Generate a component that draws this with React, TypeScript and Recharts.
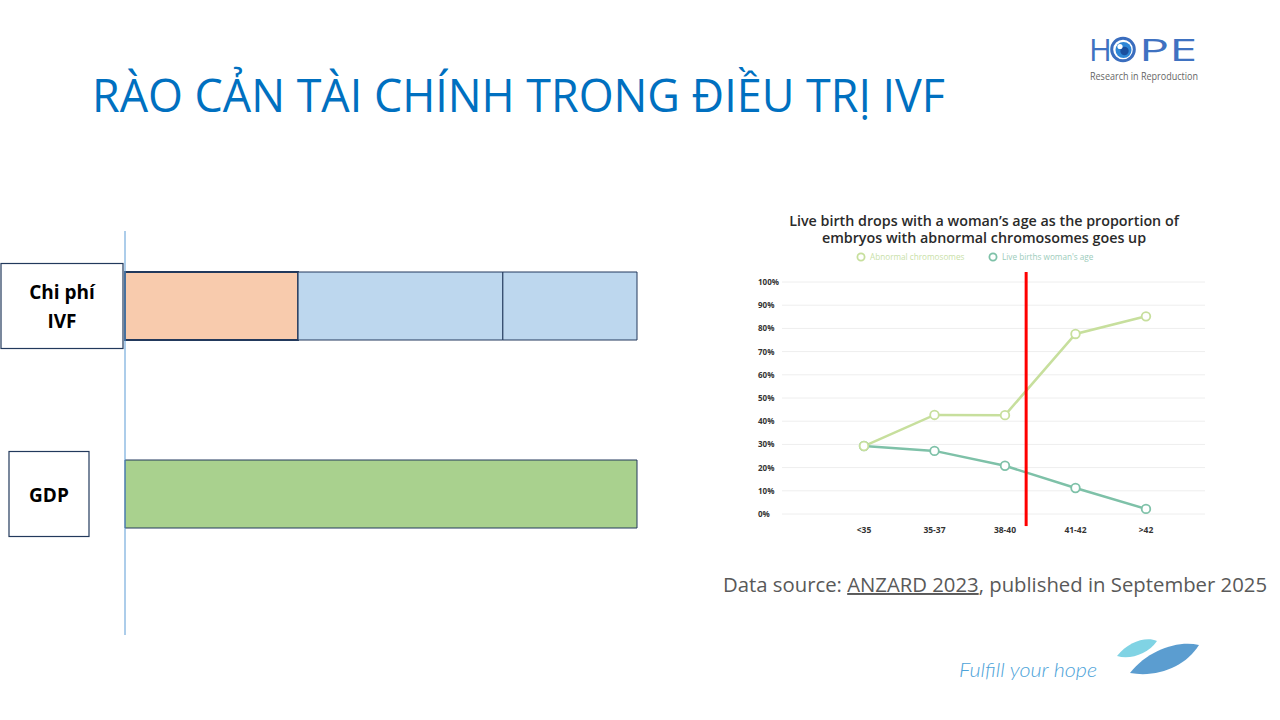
import React from "react";
import {
  BarChart,
  Bar,
  XAxis,
  YAxis,
  LineChart,
  Line,
  CartesianGrid,
  ReferenceLine,
} from "recharts";

// ---------- Data: left comparison bars ----------
const barCategories = ["Chi phí IVF", "GDP"];
const ivfPartA = [33.8, 0]; // orange segment
const ivfPartB = [40.0, 0]; // middle blue segment
const ivfPartC = [26.2, 0]; // right blue segment
const gdpValues = [0, 100];

// ---------- Data: line chart ----------
const ageGroups = ["<35", "35-37", "38-40", "41-42", ">42"];
const abnormalChromosomes = [29.3, 42.7, 42.6, 77.6, 85.2];
const liveBirths = [29.3, 27.2, 20.8, 11.2, 2.2];
const yTicks = [0, 10, 20, 30, 40, 50, 60, 70, 80, 90, 100];
const ageTickIdx = [0, 1, 2, 3, 4];
const cutoffPosition = 2.3;

const barData = barCategories.map((name, i) => ({
  name,
  a: ivfPartA[i],
  b: ivfPartB[i],
  c: ivfPartC[i],
  gdp: gdpValues[i],
}));

const lineData = ageGroups.map((age, i) => ({
  idx: i,
  age,
  abnormal: abnormalChromosomes[i],
  live: liveBirths[i],
}));

const labelLines: Record<string, string[]> = {
  "Chi phí IVF": ["Chi phí", "IVF"],
  GDP: ["GDP"],
};
const labelBoxes: Record<string, { x: number; w: number; h: number }> = {
  "Chi phí IVF": { x: 1, w: 122, h: 85 },
  GDP: { x: 9, w: 80, h: 85 },
};

const GREEN = "#C7DF9D";
const TEAL = "#7EC1A8";
const NAVY = "#22395C";

const CategoryBoxTick = (props: any) => {
  const { y, payload } = props;
  const key = payload.value as string;
  const box = labelBoxes[key];
  const lines = labelLines[key] || [key];
  const cx = box.x + box.w / 2;
  return (
    <g>
      <rect
        x={box.x}
        y={y - box.h / 2}
        width={box.w}
        height={box.h}
        fill="#fff"
        stroke={NAVY}
        strokeWidth={1.2}
      />
      {lines.length === 2 ? (
        <>
          <text x={cx} y={y - 7} textAnchor="middle" fontFamily="Open Sans" fontWeight={700} fontSize={19} fill="#000">
            {lines[0]}
          </text>
          <text x={cx} y={y + 22} textAnchor="middle" fontFamily="Open Sans" fontWeight={700} fontSize={19} fill="#000">
            {lines[1]}
          </text>
        </>
      ) : (
        <text x={cx} y={y + 8} textAnchor="middle" fontFamily="Open Sans" fontWeight={700} fontSize={19} fill="#000">
          {lines[0]}
        </text>
      )}
    </g>
  );
};

const PercentTick = (props: any) => {
  const { y, payload } = props;
  return (
    <text x={18} y={y + 3} textAnchor="start" fontFamily="Open Sans" fontWeight={700} fontSize={8} fill="#333">
      {payload.value}%
    </text>
  );
};

const AgeTick = (props: any) => {
  const { x, y, payload } = props;
  return (
    <text x={x} y={y + 19} textAnchor="middle" fontFamily="Open Sans" fontWeight={700} fontSize={8.5} fill="#333">
      {ageGroups[payload.value]}
    </text>
  );
};

const Eye = () => (
  <g>
    <circle cx={1123} cy={49.5} r={11.3} fill="none" stroke="#3A6DBE" strokeWidth={3} />
    <circle cx={1123.5} cy={50} r={8} fill="#2E86D6" />
    <circle cx={1124.5} cy={51} r={4.2} fill="#1A4F9E" />
    <circle cx={1120} cy={46.5} r={2.6} fill="#fff" />
  </g>
);

export default function App() {
  return (
    <div
      style={{
        position: "absolute",
        left: 0,
        top: 0,
        width: 1280,
        height: 720,
        background: "#fff",
        overflow: "hidden",
        fontFamily: "Open Sans",
      }}
    >
      {/* Decorative slide texts */}
      <svg width={1280} height={720} style={{ position: "absolute", left: 0, top: 0 }}>
        <text x={92} y={112} fontFamily="Open Sans" fontSize={46} fill="#0070C0" textLength={853} lengthAdjust="spacingAndGlyphs">
          RÀO CẢN TÀI CHÍNH TRONG ĐIỀU TRỊ IVF
        </text>
        {/* HOPE logo */}
        <text x={1089} y={61} fontFamily="Open Sans" fontSize={31} fill="#3F72C1">
          H
        </text>
        <Eye />
        <text x={1139} y={61} fontFamily="Open Sans" fontSize={31} fill="#3F72C1" textLength={58} lengthAdjust="spacingAndGlyphs">
          PE
        </text>
        <text x={1090} y={80} fontFamily="Open Sans" fontSize={10} fill="#666" textLength={108} lengthAdjust="spacingAndGlyphs">
          Research in Reproduction
        </text>
        {/* Data source */}
        <text x={723} y={592} fontFamily="Open Sans" fontSize={19.5} fill="#595959" textLength={544} lengthAdjust="spacingAndGlyphs">
          Data source: <tspan style={{ textDecoration: "underline" }}>ANZARD 2023</tspan>, published in September 2025
        </text>
        {/* Footer */}
        <text x={959} y={677} fontFamily="Lato" fontStyle="italic" fontWeight={300} fontSize={20} fill="#4DA3D9" textLength={138} lengthAdjust="spacingAndGlyphs">
          Fulfill your hope
        </text>
        <path d="M1117,656 C1128,642 1146,636 1157,641 C1148,654 1130,660 1117,656 Z" fill="#80D3E4" />
        <path d="M1130,673 C1148,650 1178,640 1199,645 C1186,666 1158,678 1130,673 Z" fill="#5B9DD0" />
        {/* Line chart legend */}
        <circle cx={861} cy={257} r={3.6} fill="#fff" stroke={GREEN} strokeWidth={1.8} />
        <text x={870} y={260} fontFamily="Open Sans" fontSize={8.2} fill="#C9DFA8">
          Abnormal chromosomes
        </text>
        <circle cx={993} cy={257} r={3.6} fill="#fff" stroke={TEAL} strokeWidth={1.8} />
        <text x={1002} y={260} fontFamily="Open Sans" fontSize={8.2} fill="#9CCCBB">
          Live births woman's age
        </text>
      </svg>

      {/* Left comparison bar chart */}
      <div style={{ position: "absolute", left: 0, top: 220 }}>
        <BarChart
          width={660}
          height={420}
          data={barData}
          layout="vertical"
          margin={{ top: 11, right: 23, bottom: 5, left: 0 }}
          barSize={68}
        >
          <XAxis type="number" domain={[0, 100]} hide />
          <YAxis
            type="category"
            dataKey="name"
            width={125}
            axisLine={{ stroke: "#5B9BD5", strokeWidth: 1 }}
            tickLine={false}
            tick={<CategoryBoxTick />}
            padding={{ top: -19, bottom: 47 }}
          />
          <Bar dataKey="a" stackId="s" fill="#F8CBAD" stroke={NAVY} strokeWidth={1.8} isAnimationActive={false} />
          <Bar dataKey="b" stackId="s" fill="#BDD7EE" stroke={NAVY} strokeWidth={1} isAnimationActive={false} />
          <Bar dataKey="c" stackId="s" fill="#BDD7EE" stroke={NAVY} strokeWidth={1} isAnimationActive={false} />
          <Bar dataKey="gdp" stackId="s" fill="#A9D18E" stroke={NAVY} strokeWidth={1} isAnimationActive={false} />
        </BarChart>
      </div>

      {/* Right line chart */}
      <div
        style={{
          position: "absolute",
          left: 740,
          top: 212,
          width: 488,
          textAlign: "center",
          fontFamily: "Open Sans",
          fontWeight: 600,
          fontSize: 14.3,
          lineHeight: "17px",
          color: "#2A2A2A",
        }}
      >
        Live birth drops with a woman’s age as the proportion of
        <br />
        embryos with abnormal chromosomes goes up
      </div>
      <div style={{ position: "absolute", left: 740, top: 200 }}>
        <LineChart
          width={480}
          height={350}
          data={lineData}
          margin={{ top: 82, right: 15, bottom: 6, left: 0 }}
        >
          <CartesianGrid horizontal vertical={false} stroke="#EEEEEE" />
          <XAxis
            type="number"
            dataKey="idx"
            domain={[-1.163, 4.837]}
            ticks={ageTickIdx}
            allowDataOverflow
            axisLine={false}
            tickLine={false}
            tickSize={0}
            tickMargin={0}
            height={30}
            tick={<AgeTick />}
          />
          <YAxis
            type="number"
            domain={[0, 100]}
            ticks={yTicks}
            width={42}
            axisLine={false}
            tickLine={false}
            tick={<PercentTick />}
          />
          <Line
            type="linear"
            dataKey="live"
            stroke={TEAL}
            strokeWidth={2.5}
            dot={{ r: 4.3, fill: "#fff", stroke: TEAL, strokeWidth: 1.8 }}
            isAnimationActive={false}
          />
          <Line
            type="linear"
            dataKey="abnormal"
            stroke={GREEN}
            strokeWidth={2.5}
            dot={{ r: 4.3, fill: "#fff", stroke: GREEN, strokeWidth: 1.8 }}
            isAnimationActive={false}
          />
          <ReferenceLine
            segment={[
              { x: cutoffPosition, y: 104.3 },
              { x: cutoffPosition, y: -5.2 },
            ]}
            stroke="#FF0000"
            strokeWidth={3}
            ifOverflow="visible"
          />
        </LineChart>
      </div>
    </div>
  );
}
